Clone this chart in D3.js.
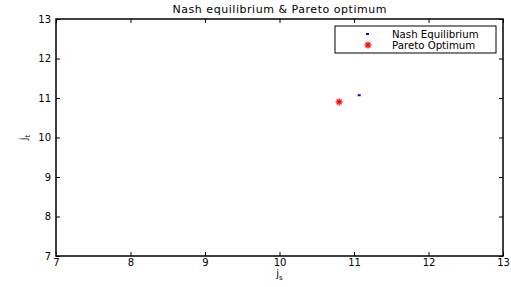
<!DOCTYPE html>
<html><head><meta charset="utf-8">
<script src="https://cdn.jsdelivr.net/npm/d3@7"></script>
<style>body{margin:0;background:#fff}svg{display:block}text{font-family:"DejaVu Sans",sans-serif}</style>
</head><body>
<script>
const title = "Nash equilibrium & Pareto optimum";
const seriesNames = ["Nash Equilibrium", "Pareto Optimum"];
const seriesColors = ["#0000ff", "#ff0000"];
const nashX = [11.07];
const nashY = [11.07];
const paretoX = [10.8];
const paretoY = [10.9];
const xTicks = [7, 8, 9, 10, 11, 12, 13];
const yTicks = [7, 8, 9, 10, 11, 12, 13];

const W = 511, H = 287;
const FONT = "DejaVu Sans, sans-serif";
const m = {l: 56, r: 8, t: 19, b: 31};
const svg = d3.select("body").append("svg").attr("width", W).attr("height", H);
const x = d3.scaleLinear().domain([7, 13]).range([m.l, W - m.r]);
const y = d3.scaleLinear().domain([7, 13]).range([H - m.b, m.t]);

const g = svg.append("g");
const fmt = d3.format("d");
const xa = d3.axisBottom(x).tickValues(xTicks).tickFormat(fmt).tickSizeInner(-4).tickSizeOuter(0).tickPadding(3);
const xat = d3.axisTop(x).tickValues(xTicks).tickSizeInner(-4).tickSizeOuter(0).tickFormat("");
const ya = d3.axisLeft(y).tickValues(yTicks).tickFormat(fmt).tickSizeInner(-4).tickSizeOuter(0).tickPadding(5);
const yar = d3.axisRight(y).tickValues(yTicks).tickSizeInner(-4).tickSizeOuter(0).tickFormat("");
function style(sel){ sel.select(".domain").remove(); sel.selectAll("line").attr("stroke","#000"); sel.selectAll("text").attr("font-size",10).attr("fill","#000").attr("font-family",FONT); }
g.append("g").attr("transform",`translate(0,${H-m.b})`).call(xa).call(style);
g.append("g").attr("transform",`translate(0,${m.t})`).call(xat).call(style);
g.append("g").attr("transform",`translate(${m.l},0)`).call(ya).call(style);
g.append("g").attr("transform",`translate(${W-m.r},0)`).call(yar).call(style);
svg.append("rect").attr("x",m.l).attr("y",m.t).attr("width",W-m.l-m.r).attr("height",H-m.t-m.b)
  .attr("fill","none").attr("stroke","#000").attr("stroke-width",1.5);

svg.append("text").attr("x",(m.l+W-m.r)/2).attr("y",13).attr("text-anchor","middle")
  .attr("font-size",11).attr("textLength",214).attr("lengthAdjust","spacing").text(title);
// x label
const xl = svg.append("text").attr("x",x(10)).attr("y",277).attr("text-anchor","middle").attr("font-size",10);
xl.append("tspan").text("j");
xl.append("tspan").attr("font-size",7).attr("dy",3).text("s");
// y label
const yl = svg.append("text").attr("transform",`translate(27,${y(10)}) rotate(-90)`).attr("text-anchor","middle").attr("font-size",10);
yl.append("tspan").text("j");
yl.append("tspan").attr("font-size",7).attr("dy",3).text("t");

// points
const nash = nashX.map((d,i)=>({x:d,y:nashY[i]}));
const par = paretoX.map((d,i)=>({x:d,y:paretoY[i]}));
svg.selectAll(".nash").data(nash).enter().append("rect").attr("class","nash")
  .attr("x",d=>x(d.x)-1.5).attr("y",d=>y(d.y)-1).attr("width",3).attr("height",2).attr("fill",seriesColors[0]);
function drawStar(sel, cx, cy){
  const s=3.5;
  const p = sel.append("g").attr("transform",`translate(${cx},${cy})`).attr("stroke",seriesColors[1]).attr("stroke-width",1.3);
  [[-s,0,s,0],[0,-s,0,s],[-s*0.7,-s*0.7,s*0.7,s*0.7],[-s*0.7,s*0.7,s*0.7,-s*0.7]].forEach(l=>
    p.append("line").attr("x1",l[0]).attr("y1",l[1]).attr("x2",l[2]).attr("y2",l[3]));
}
par.forEach(d=>drawStar(svg, x(d.x), y(d.y)));

// legend
const lg = svg.append("g");
lg.append("rect").attr("x",335).attr("y",26).attr("width",161).attr("height",27).attr("fill","#fff").attr("stroke","#000").attr("stroke-width",1);
lg.append("rect").attr("x",366).attr("y",33).attr("width",3).attr("height",2).attr("fill",seriesColors[0]);
drawStar(lg, 368, 45);
lg.append("text").attr("x",392).attr("y",38).attr("font-size",10.2).text(seriesNames[0]);
lg.append("text").attr("x",392).attr("y",49).attr("font-size",10.2).text(seriesNames[1]);
</script>
</body></html>
